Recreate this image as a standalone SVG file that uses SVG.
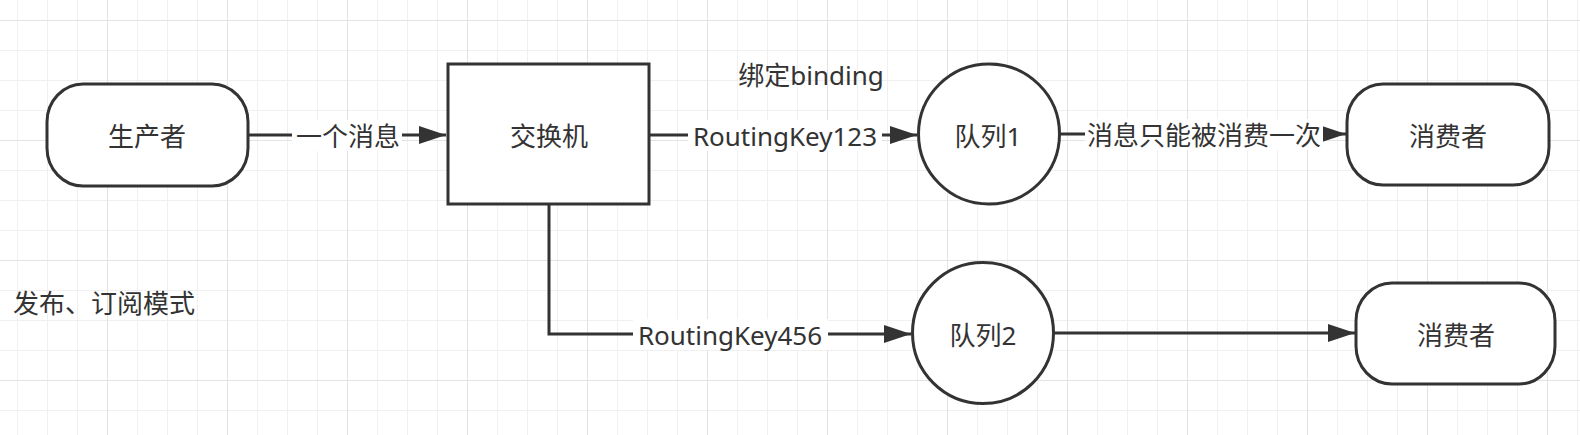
<svg xmlns="http://www.w3.org/2000/svg" width="1580" height="435" viewBox="0 0 1580 435">
  <defs>
    <pattern id="gMinor" patternUnits="userSpaceOnUse" x="17" y="20" width="30" height="30">
      <rect x="0" y="0" width="1" height="30" fill="#f0f0f0"/>
      <rect x="0" y="0" width="30" height="1" fill="#f0f0f0"/>
    </pattern>
    <pattern id="gMajor" patternUnits="userSpaceOnUse" x="107" y="20" width="120" height="120">
      <rect x="0" y="0" width="1" height="120" fill="#e3e3e3"/>
      <rect x="0" y="0" width="120" height="1" fill="#e3e3e3"/>
    </pattern>
    <marker id="arrow" markerUnits="userSpaceOnUse" viewBox="0 0 27 18" refX="27" refY="9" markerWidth="27" markerHeight="18" orient="auto">
      <path d="M0,0 L27,9 L0,18 z" fill="#333333"/>
    </marker>
    <style>
      .shape { fill: #ffffff; stroke: #333333; stroke-width: 3; }
      .edge { fill: none; stroke: #333333; stroke-width: 3; marker-end: url(#arrow); }
      .lbl-bg { fill: #ffffff; }
      text { font-family: "Noto Sans", "Noto Sans CJK SC", sans-serif; font-size: 26px; fill: #333333; text-anchor: middle; dominant-baseline: central; }
    </style>
  </defs>

  <rect x="0" y="0" width="1580" height="435" fill="#ffffff"/>
  <rect x="0" y="0" width="1580" height="435" fill="url(#gMinor)"/>
  <rect x="0" y="0" width="1580" height="435" fill="url(#gMajor)"/>

  <g id="connectors">
    <path class="edge" d="M248,135 H446"/>
    <path class="edge" d="M649,135 H917"/>
    <path class="edge" d="M549,204 V334 H911"/>
    <path class="edge" d="M1060,134 H1346"/>
    <path class="edge" d="M1054,333 H1355"/>
    <g id="edge-labels">
      <rect class="lbl-bg" x="292" y="120" width="110" height="31"/>
      <text x="348" y="136">一个消息</text>
      <rect class="lbl-bg" x="688" y="120" width="194" height="31"/>
      <text x="785" y="136">RoutingKey123</text>
      <rect class="lbl-bg" x="633" y="319" width="195" height="31"/>
      <text x="730" y="335">RoutingKey456</text>
      <rect class="lbl-bg" x="1085" y="119" width="238" height="31"/>
      <text x="1204" y="135">消息只能被消费一次</text>
    </g>
  </g>

  <g id="producer">
    <rect class="shape" x="47" y="84" width="201" height="102" rx="36" ry="38"/>
    <text x="147" y="136">生产者</text>
  </g>
  <g id="exchange">
    <rect class="shape" x="448" y="64" width="201" height="140"/>
    <text x="549" y="136">交换机</text>
  </g>
  <g id="queue1">
    <ellipse class="shape" cx="989" cy="134" rx="70.5" ry="70"/>
    <text x="988" y="136">队列1</text>
  </g>
  <g id="queue2">
    <ellipse class="shape" cx="983" cy="333" rx="70.5" ry="70.5"/>
    <text x="983" y="335">队列2</text>
  </g>
  <g id="consumer1">
    <rect class="shape" x="1347" y="84" width="202" height="101" rx="36" ry="38"/>
    <text x="1448" y="136">消费者</text>
  </g>
  <g id="consumer2">
    <rect class="shape" x="1356" y="283" width="199" height="101" rx="36" ry="38"/>
    <text x="1456" y="335">消费者</text>
  </g>
  <g id="binding-note">
    <text x="811" y="75">绑定binding</text>
  </g>
  <g id="title">
    <text x="104" y="303">发布、订阅模式</text>
  </g>
</svg>
